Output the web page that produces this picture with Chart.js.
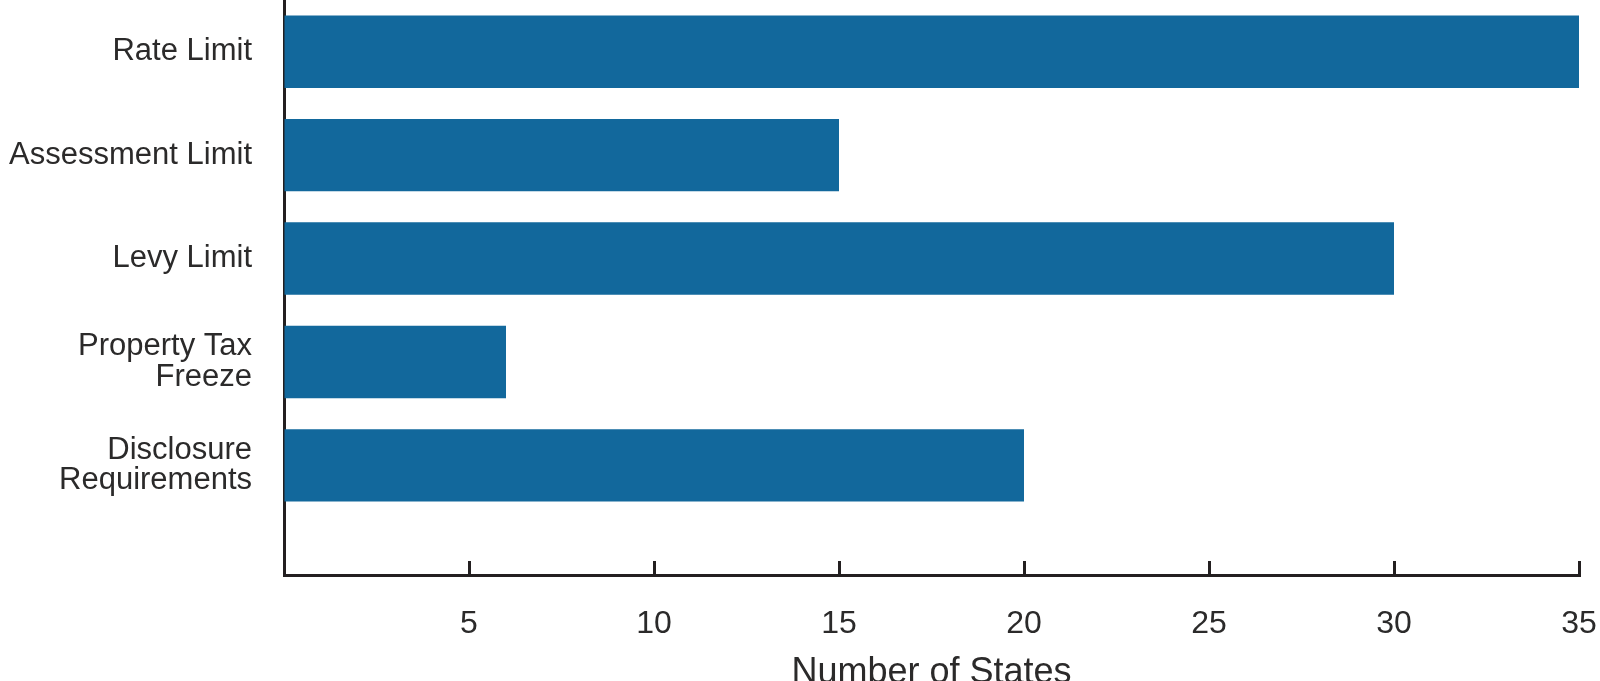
<!DOCTYPE html>
<html>
<head>
<meta charset="utf-8">
<script src="https://cdn.jsdelivr.net/npm/chart.js@4"></script>
<style>
  html, body { margin: 0; padding: 0; background: #fff; overflow: hidden; }
  #wrap { width: 1600px; height: 681px; position: relative; }
</style>
</head>
<body>
<div id="wrap"><canvas id="barChart"></canvas></div>
<script>
// categories, top to bottom
const categories = [
  "Rate Limit",
  "Assessment Limit",
  "Levy Limit",
  ["Property Tax", "Freeze"],
  ["Disclosure", "Requirements"],
];
const stateCounts = [35, 15, 30, 6, 20];
const xTicks = [5, 10, 15, 20, 25, 30, 35];

const barColor = "#12689c";
const inkColor = "#231f20";
const textColor = "#2b2a2a";
const fontFamily = "'Liberation Sans', Arial, Helvetica, sans-serif";

const points = stateCounts.map((v, i) => ({ x: v, y: i }));

const ctx = document.getElementById("barChart").getContext("2d");
new Chart(ctx, {
  type: "bar",
  data: {
    datasets: [
      {
        data: points,
        backgroundColor: barColor,
        borderWidth: 0,
        categoryPercentage: 0.7,
        barPercentage: 1.0,
      },
    ],
  },
  options: {
    indexAxis: "y",
    responsive: true,
    maintainAspectRatio: false,
    animation: false,
    layout: { padding: { top: 0, right: 21, left: 0, bottom: 0 } },
    plugins: { legend: { display: false }, tooltip: { enabled: false } },
    scales: {
      x: {
        type: "linear",
        min: 0,
        max: 35,
        afterFit: (scale) => {
          // axis line sits at y=575, title runs off the bottom edge
          scale.height = 106;
          scale.paddingLeft = 0;
          scale.paddingRight = 0;
        },
        ticks: {
          stepSize: 5,
          color: textColor,
          font: { family: fontFamily, size: 32 },
          padding: 44,
          maxRotation: 0,
          callback: (v) => (xTicks.includes(v) ? String(v) : ""),
        },
        grid: {
          drawOnChartArea: false,
          drawTicks: true,
          tickLength: -14,
          tickWidth: 3,
          tickColor: inkColor,
        },
        border: { display: true, color: inkColor, width: 3 },
        title: {
          display: true,
          text: "Number of States",
          color: textColor,
          font: { family: fontFamily, size: 36 },
          padding: { top: 0, bottom: -14 },
        },
      },
      y: {
        type: "linear",
        reverse: true,
        offset: false,
        min: -0.5,
        max: 5.06,
        afterBuildTicks: (scale) => {
          scale.ticks = categories.map((_, i) => ({ value: i }));
        },
        afterFit: (scale) => {
          scale.width = 284;
          scale.paddingTop = 0;
          scale.paddingBottom = 0;
        },
        ticks: {
          color: textColor,
          font: { family: fontFamily, size: 31, lineHeight: 0.97 },
          padding: 32,
          autoSkip: false,
          callback: (v) => categories[v],
        },
        grid: { display: false, drawTicks: false },
        border: { display: true, color: inkColor, width: 3 },
      },
    },
  },
});
</script>
</body>
</html>
